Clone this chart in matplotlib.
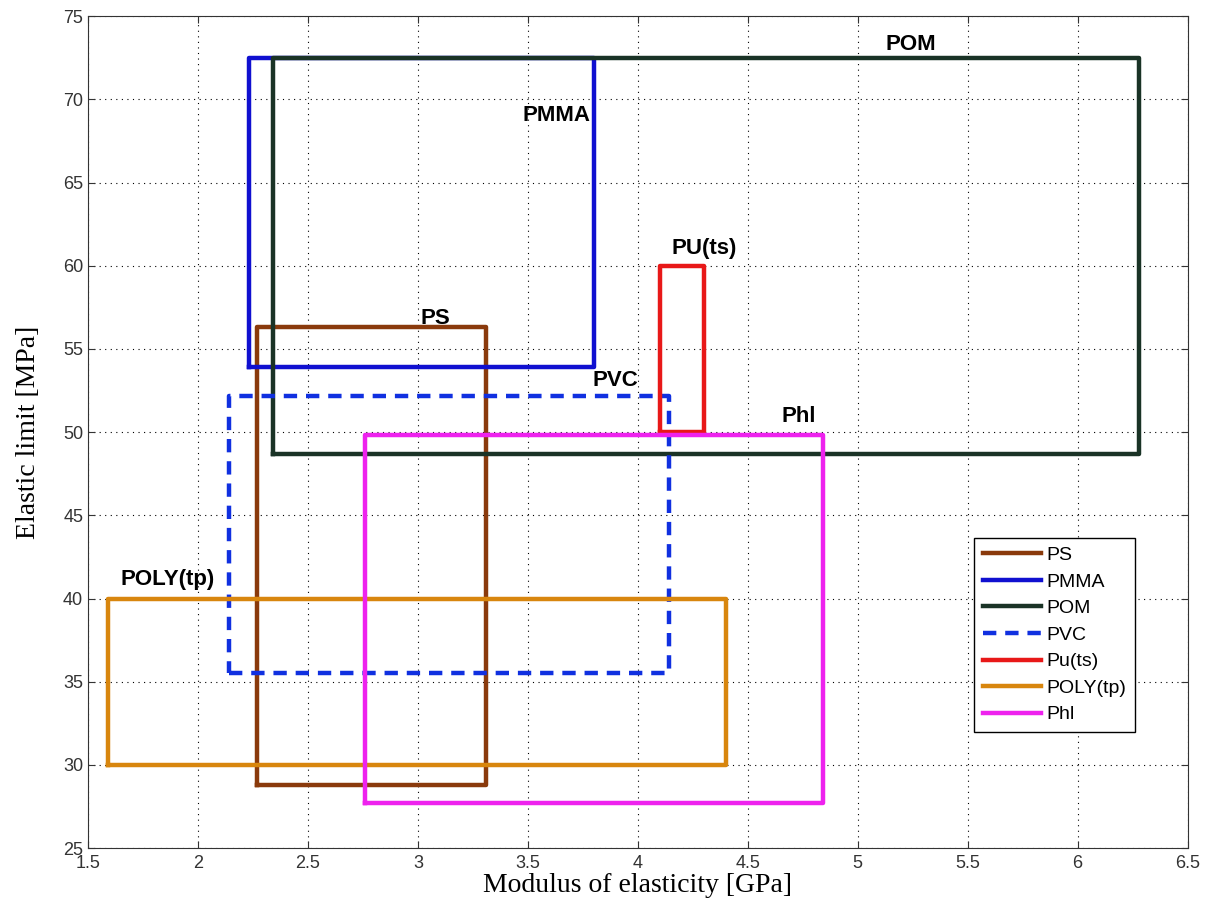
import matplotlib.pyplot as plt

# rectangles: (x_min, x_max, y_min, y_max)
names = ['PS', 'PMMA', 'POM', 'PVC', 'Pu(ts)', 'POLY(tp)', 'Phl']
x_min = [2.27, 2.23, 2.34, 2.14, 4.10, 1.59, 2.76]
x_max = [3.31, 3.80, 6.28, 4.14, 4.30, 4.40, 4.84]
y_min = [28.8, 53.9, 48.7, 35.5, 50.0, 30.0, 27.7]
y_max = [56.3, 72.5, 72.5, 52.2, 60.0, 40.0, 49.8]
colors = ['#8a3a0c', '#1010d0', '#1a3326', '#1030e0', '#e81818', '#d8860e', '#ee22ee']
styles = ['-', '-', '-', '--', '-', '-', '-']

# labels on the chart
label_text = ['PS', 'PMMA', 'POM', 'PVC', 'PU(ts)', 'POLY(tp)', 'Phl']
label_x = [3.08, 3.63, 5.24, 3.90, 4.30, 1.86, 4.73]
label_y = [56.2, 68.4, 72.7, 52.5, 60.4, 40.5, 50.3]

plt.rcParams.update({'font.family': 'Liberation Sans', 'font.size': 13})

fig = plt.figure(figsize=(12.11, 9.06), dpi=100)
ax = fig.add_axes([0.0727, 0.064, 0.908, 0.918])

for i in range(len(names)):
    xs = [x_min[i], x_max[i], x_max[i], x_min[i], x_min[i]]
    ys = [y_min[i], y_min[i], y_max[i], y_max[i], y_min[i]]
    ax.plot(xs, ys, styles[i], color=colors[i], lw=3.2, label=names[i],
            dashes=(3, 2) if styles[i] == '--' else (None, None))

for t, lx, ly in zip(label_text, label_x, label_y):
    ax.text(lx, ly, t, ha='center', va='bottom', fontsize=16, fontweight='bold')

ax.set_xlim(1.5, 6.5)
ax.set_ylim(25, 75)
ax.set_xticks([1.5, 2, 2.5, 3, 3.5, 4, 4.5, 5, 5.5, 6, 6.5])
ax.set_xticklabels(['1.5', '2', '2.5', '3', '3.5', '4', '4.5', '5', '5.5', '6', '6.5'])
ax.set_yticks(range(25, 80, 5))
ax.tick_params(direction='in', top=True, right=True, length=5, labelsize=13, colors='#333333')
ax.tick_params(axis='x', pad=5)
ax.grid(True, linestyle=(0, (1, 4)), color='black', lw=0.8)
for s in ax.spines.values():
    s.set_color('#333333')

ax.set_xlabel('Modulus of elasticity [GPa]', family='Liberation Serif', fontsize=20, labelpad=1)
ax.set_ylabel('Elastic limit [MPa]', family='Liberation Serif', fontsize=20, labelpad=16)

leg = ax.legend(loc='upper left', bbox_to_anchor=(0.806, 0.373), borderaxespad=0, fontsize=14,
                handlelength=3.0, handletextpad=0.25, borderpad=0.45, labelspacing=0.46,
                fancybox=False, edgecolor='black', framealpha=1)
leg.get_frame().set_linewidth(1.0)

fig.savefig('out.png', dpi=100)
